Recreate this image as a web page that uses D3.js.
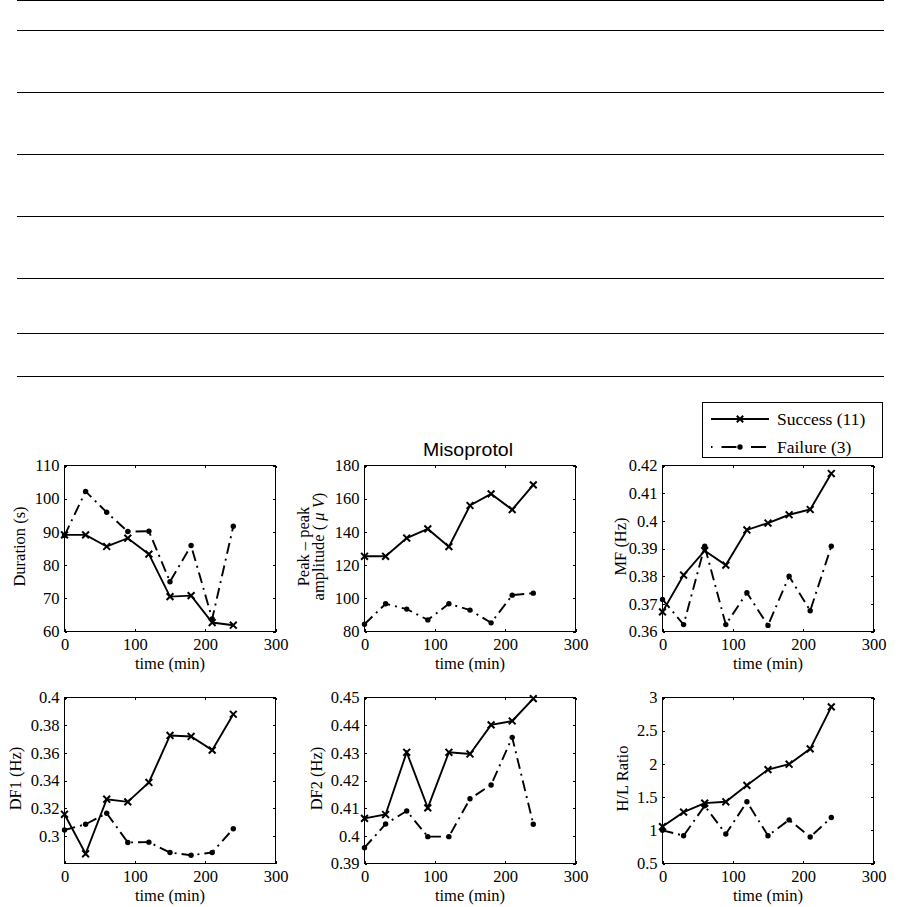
<!DOCTYPE html>
<html>
<head>
<meta charset="utf-8">
<script src="https://cdn.jsdelivr.net/npm/d3@7"></script>
<style>
  html, body { margin: 0; padding: 0; background: #fff; }
  svg { display: block; }
  text { font-family: "Liberation Serif", "Times New Roman", serif; fill: #000; }
</style>
</head>
<body>
<div id="chart"></div>
<script>
// ---------------- data ----------------
const time = [0, 30, 60, 90, 120, 150, 180, 210, 240];
const xTicks = [0, 100, 200, 300];

const durationSuccess = [89.1, 89.1, 85.6, 88.1, 83.3, 70.5, 70.8, 62.7, 61.9];
const durationFailure = [88.9, 102.2, 95.9, 90.1, 90.2, 75.0, 85.9, 63.8, 91.7];

const amplitudeSuccess = [125.3, 125.3, 136.3, 141.8, 131.1, 155.9, 162.9, 153.4, 168.3];
const amplitudeFailure = [84.4, 96.7, 93.5, 87.0, 96.7, 92.9, 85.2, 101.9, 103.1];

const mfSuccess = [0.3671, 0.3804, 0.3892, 0.3840, 0.3967, 0.3992, 0.4022, 0.4041, 0.4171];
const mfFailure = [0.3716, 0.3625, 0.3908, 0.3625, 0.3740, 0.3622, 0.3800, 0.3675, 0.3908];

const df1Success = [0.3157, 0.2872, 0.3266, 0.3247, 0.3387, 0.3726, 0.3719, 0.3620, 0.3879];
const df1Failure = [0.3044, 0.3085, 0.3165, 0.2954, 0.2956, 0.2881, 0.2862, 0.2881, 0.3053];

const df2Success = [0.4063, 0.4077, 0.4302, 0.4101, 0.4302, 0.4296, 0.4401, 0.4415, 0.4496];
const df2Failure = [0.3957, 0.4043, 0.4090, 0.3997, 0.3997, 0.4134, 0.4184, 0.4356, 0.4042];

const hlSuccess = [1.056, 1.273, 1.409, 1.429, 1.677, 1.914, 1.995, 2.227, 2.859];
const hlFailure = [1.000, 0.919, 1.369, 0.944, 1.429, 0.919, 1.157, 0.899, 1.192];

const durationTicks = [60, 70, 80, 90, 100, 110];
const amplitudeTicks = [80, 100, 120, 140, 160, 180];
const mfTicks = [0.36, 0.37, 0.38, 0.39, 0.40, 0.41, 0.42];
const df1Ticks = [0.30, 0.32, 0.34, 0.36, 0.38, 0.40];
const df2Ticks = [0.39, 0.40, 0.41, 0.42, 0.43, 0.44, 0.45];
const hlTicks = [0.5, 1, 1.5, 2, 2.5, 3];

const seriesNames = ["Success (11)", "Failure (3)"];
const xLabel = "time (min)";
const title = "Misoprotol";

// ---------------- layout ----------------
const W = 901, H = 907;
const colX = [64, 364, 662];
const rowY = [465, 697];
const pw = 211, ph = 166;
const FS = 16.5;

const panels = [
  { col: 0, row: 0, s: durationSuccess, f: durationFailure, dom: [60, 110], ticks: durationTicks, label: ["Duration (s)"], labOff: [45] },
  { col: 1, row: 0, s: amplitudeSuccess, f: amplitudeFailure, dom: [80, 180], ticks: amplitudeTicks, label: ["Peak \u2013 peak", "amplitude"], labOff: [61, 46], micro: true },
  { col: 2, row: 0, s: mfSuccess, f: mfFailure, dom: [0.36, 0.42], ticks: mfTicks, label: ["MF (Hz)"], labOff: [42] },
  { col: 0, row: 1, s: df1Success, f: df1Failure, dom: [0.2802, 0.40], ticks: df1Ticks, label: ["DF1 (Hz)"], labOff: [49.5] },
  { col: 1, row: 1, s: df2Success, f: df2Failure, dom: [0.39, 0.45], ticks: df2Ticks, label: ["DF2 (Hz)"], labOff: [48.5] },
  { col: 2, row: 1, s: hlSuccess, f: hlFailure, dom: [0.5, 3], ticks: hlTicks, label: ["H/L Ratio"], labOff: [40] }
];

const svg = d3.select("#chart").append("svg").attr("width", W).attr("height", H);
svg.append("rect").attr("width", W).attr("height", H).attr("fill", "#fff");

// ---------------- table rules at top ----------------
const ruleYs = [0, 30, 92, 154, 216, 278, 333, 376];
svg.append("g").selectAll("line").data(ruleYs).join("line")
  .attr("x1", 17).attr("x2", 884)
  .attr("y1", d => d + 0.5).attr("y2", d => d + 0.5)
  .attr("stroke", "#000").attr("stroke-width", 1.4)
  .attr("shape-rendering", "crispEdges");

const fmt = v => String(+v.toFixed(4));
const DASHDOT = "11,5,2,5";

function crossPath(cx, cy, r) {
  return `M${cx - r},${cy - r}L${cx + r},${cy + r}M${cx - r},${cy + r}L${cx + r},${cy - r}`;
}

panels.forEach(p => {
  const x0 = colX[p.col], y0 = rowY[p.row];
  const g = svg.append("g").attr("transform", `translate(${x0 + 0.5},${y0 + 0.5})`);
  const x = d3.scaleLinear().domain([0, 300]).range([0, pw]);
  const y = d3.scaleLinear().domain(p.dom).range([ph, 0]);

  // axes (MATLAB style, ticks inward, mirrored)
  const tl = 2.5;
  const bottom = g.append("g").attr("transform", `translate(0,${ph})`)
    .call(d3.axisBottom(x).tickValues(xTicks).tickSizeInner(-tl).tickSizeOuter(0).tickPadding(5).tickFormat(d3.format("d")));
  const top = g.append("g")
    .call(d3.axisTop(x).tickValues(xTicks).tickSizeInner(-tl).tickSizeOuter(0).tickFormat(""));
  const left = g.append("g")
    .call(d3.axisLeft(y).tickValues(p.ticks).tickSizeInner(-tl).tickSizeOuter(0).tickPadding(5).tickFormat(fmt));
  const right = g.append("g").attr("transform", `translate(${pw},0)`)
    .call(d3.axisRight(y).tickValues(p.ticks).tickSizeInner(-tl).tickSizeOuter(0).tickFormat(""));
  [bottom, top, left, right].forEach(a => {
    a.select(".domain").remove();
    a.selectAll("line").attr("stroke", "#000").attr("stroke-width", 1).attr("shape-rendering", "crispEdges");
    a.selectAll("text").attr("font-family", "Liberation Serif").attr("font-size", FS).attr("fill", "#000");
  });
  bottom.selectAll("text").attr("dy", "0.8em");
  g.append("rect").attr("width", pw).attr("height", ph)
    .attr("fill", "none").attr("stroke", "#000").attr("stroke-width", 1)
    .attr("shape-rendering", "crispEdges");

  // x label
  g.append("text").attr("x", pw / 2).attr("y", ph + 37)
    .attr("text-anchor", "middle").attr("font-size", FS).text(xLabel);

  // y labels
  p.label.forEach((lab, i) => {
    const t = g.append("text")
      .attr("transform", `translate(${-p.labOff[i]},${ph / 2 - 2}) rotate(-90)`)
      .attr("text-anchor", "middle").attr("dy", "0.35em").attr("font-size", FS);
    if (p.micro && i === 1) {
      t.append("tspan").text("amplitude ( ");
      t.append("tspan").attr("font-style", "italic").text("\u03bc");
      t.append("tspan").attr("font-style", "italic").text(" V");
      t.append("tspan").text(")");
    } else {
      t.text(lab);
    }
  });

  const line = d3.line().x((d, i) => x(time[i])).y(d => y(d));

  // failure series (dash-dot with dots)
  g.append("path").datum(p.f).attr("d", line)
    .attr("fill", "none").attr("stroke", "#000").attr("stroke-width", 1.9)
    .attr("stroke-dasharray", DASHDOT);
  g.append("g").selectAll("circle").data(p.f).join("circle")
    .attr("cx", (d, i) => x(time[i])).attr("cy", d => y(d)).attr("r", 2.7).attr("fill", "#000");

  // success series (solid with crosses)
  g.append("path").datum(p.s).attr("d", line)
    .attr("fill", "none").attr("stroke", "#000").attr("stroke-width", 1.9);
  g.append("g").selectAll("path").data(p.s).join("path")
    .attr("d", (d, i) => crossPath(x(time[i]), y(d), 3.4))
    .attr("stroke", "#000").attr("stroke-width", 2).attr("fill", "none");
});

// ---------------- title ----------------
svg.append("text").attr("x", 468).attr("y", 456)
  .attr("text-anchor", "middle")
  .style("font-family", "'Liberation Sans', Arial, sans-serif")
  .attr("font-size", 18)
  .attr("textLength", 90).attr("lengthAdjust", "spacingAndGlyphs")
  .text(title);

// ---------------- legend ----------------
const lg = svg.append("g");
lg.append("rect").attr("x", 702.5).attr("y", 402.5).attr("width", 180).attr("height", 55)
  .attr("fill", "#fff").attr("stroke", "#000").attr("stroke-width", 1)
  .attr("shape-rendering", "crispEdges");
const legY = [419, 447];
lg.append("line").attr("x1", 711).attr("x2", 769).attr("y1", legY[0]).attr("y2", legY[0])
  .attr("stroke", "#000").attr("stroke-width", 1.9);
lg.append("path").attr("d", crossPath(740, legY[0], 3.2)).attr("stroke", "#000").attr("stroke-width", 2);
lg.append("line").attr("x1", 711).attr("x2", 769).attr("y1", legY[1]).attr("y2", legY[1])
  .attr("stroke", "#000").attr("stroke-width", 1.9).attr("stroke-dasharray", "1.5,9,15,4");
lg.append("circle").attr("cx", 740).attr("cy", legY[1]).attr("r", 2.7).attr("fill", "#000");
lg.selectAll("text.leg").data(seriesNames).join("text").attr("class", "leg")
  .attr("x", 777).attr("y", (d, i) => legY[i]).attr("dy", "0.35em")
  .attr("font-size", 17.5).text(d => d);
</script>
</body>
</html>
